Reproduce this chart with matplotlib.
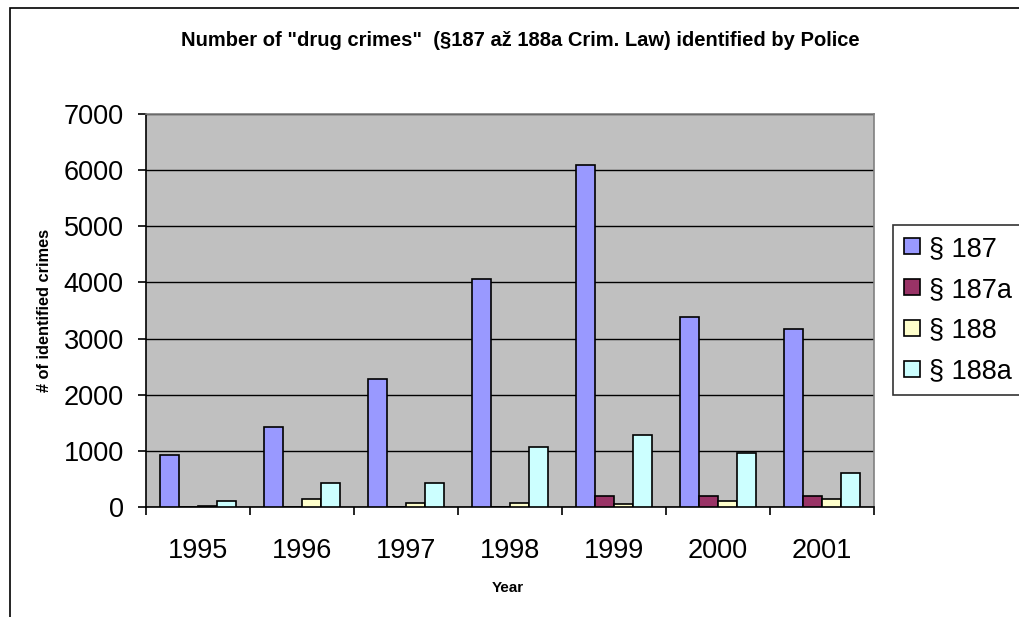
import matplotlib
matplotlib.use("Agg")
import matplotlib.pyplot as plt
import numpy as np
from matplotlib.patches import Rectangle

plt.rcParams['font.family'] = ['Liberation Sans', 'DejaVu Sans']

years = ["1995", "1996", "1997", "1998", "1999", "2000", "2001"]
series_names = ["§ 187", "§ 187a", "§ 188", "§ 188a"]
s187 = [920, 1430, 2280, 4060, 6100, 3380, 3170]
s187a = [0, 0, 0, 0, 200, 200, 200]
s188 = [25, 140, 70, 70, 60, 100, 140]
s188a = [100, 430, 430, 1070, 1280, 960, 600]
colors = ["#9999FF", "#993366", "#FFFFCC", "#CCFFFF"]

W, H = 1020, 617
fig = plt.figure(figsize=(W / 100, H / 100), dpi=100)

# chart area frame
fig.add_artist(Rectangle((10 / W, -0.1), 1.2, 1 - 8 / H + 0.1,
                         transform=fig.transFigure, fill=False,
                         edgecolor="black", linewidth=1.2))

ax = fig.add_axes([146 / W, 1 - 507 / H, (874 - 146) / W, (507 - 114) / H])
ax.set_facecolor("#C0C0C0")

x = np.arange(len(years))
bw = 1 / 5.5
for i, (vals, c, name) in enumerate(zip([s187, s187a, s188, s188a], colors, series_names)):
    ax.bar(x + (i - 1.5) * bw, vals, width=bw, color=c, edgecolor="black",
           linewidth=1.2, label=name, zorder=3)

ax.set_xlim(-0.5, len(years) - 0.5)
ax.set_ylim(0, 7000)
ax.set_yticks(range(0, 7001, 1000))
ax.yaxis.grid(True, color="black", linewidth=1.0, zorder=1)
ax.set_axisbelow(True)

ax.set_xticks(x)
ax.set_xticklabels(years, fontsize=19.5)
ax.set_xticks(np.arange(-0.5, len(years)), minor=True)
ax.tick_params(axis="x", which="major", length=0, pad=22)
ax.tick_params(axis="x", which="minor", length=6, width=1.2, color="black")
ax.tick_params(axis="y", labelsize=19.5, length=6, width=1.2, direction="out", pad=10)

for side in ["top", "right"]:
    ax.spines[side].set_color("#808080")
    ax.spines[side].set_linewidth(1.2)
for side in ["left", "bottom"]:
    ax.spines[side].set_color("black")
    ax.spines[side].set_linewidth(1.2)

fig.text(508 / W, 1 - 588 / H, "Year", ha="center", va="center",
         fontsize=11, fontweight="bold")
fig.text(45 / W, 1 - 310 / H, "# of identified crimes", ha="center", va="center",
         rotation=90, fontsize=11.8, fontweight="bold")

fig.text(520 / W, 1 - 40 / H,
         'Number of "drug crimes"  (§187 až 188a Crim. Law) identified by Police',
         ha="center", va="center", fontsize=14.5, fontweight="bold")

leg = fig.legend(loc="upper left", bbox_to_anchor=(893 / W, 1 - 225 / H),
                 fontsize=19.5, frameon=True, fancybox=False, edgecolor="black",
                 handlelength=0.58, handleheight=0.52, handletextpad=0.35,
                 labelspacing=0.55, borderpad=0.4, borderaxespad=0)
leg.get_frame().set_linewidth(1.2)

fig.savefig("out.png", dpi=100, facecolor="white")
